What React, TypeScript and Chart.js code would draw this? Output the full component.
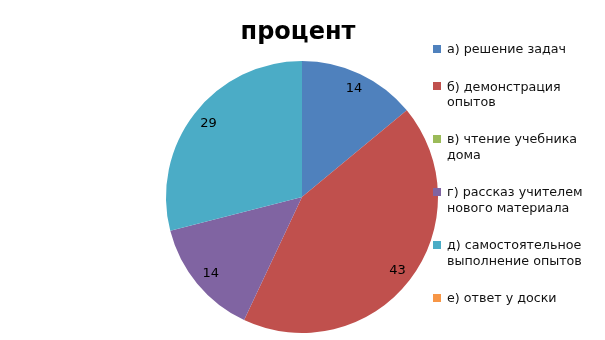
import React, { useEffect, useRef } from "react";
import { Chart, registerables } from "chart.js";

Chart.register(...registerables);

const chartTitle = "процент";
const categories: string[][] = [
  ["а) решение задач"],
  ["б) демонстрация", "опытов"],
  ["в) чтение учебника", "дома"],
  ["г) рассказ учителем", "нового материала"],
  ["д) самостоятельное", "выполнение опытов"],
  ["е) ответ у доски"],
];
const values: number[] = [14, 43, 0, 14, 29, 0];
const colors: string[] = ["#4F81BD", "#C0504D", "#9BBB59", "#8064A2", "#4BACC6", "#F79646"];

const FONT = "'DejaVu Sans', sans-serif";

const overlayPlugin = {
  id: "overlay",
  afterDraw(chart: any) {
    const ctx = chart.ctx as CanvasRenderingContext2D;
    ctx.save();
    // title
    ctx.fillStyle = "#000";
    ctx.font = `bold 24px ${FONT}`;
    ctx.textAlign = "center";
    ctx.textBaseline = "middle";
    ctx.fillText(chartTitle, 298, 33);

    // data labels
    const meta = chart.getDatasetMeta(0);
    ctx.font = `13px ${FONT}`;
    meta.data.forEach((arc: any, i: number) => {
      const v = values[i];
      if (!v) return;
      const { x, y, startAngle, endAngle, outerRadius } = arc.getProps(
        ["x", "y", "startAngle", "endAngle", "outerRadius"],
        true
      );
      const mid = (startAngle + endAngle) / 2;
      const r = outerRadius * 0.88;
      ctx.fillText(String(v), x + Math.cos(mid) * r + 1, y + Math.sin(mid) * r);
    });

    // legend
    ctx.textAlign = "left";
    ctx.font = `12.7px ${FONT}`;
    let y = 49;
    const lineH = 15.5;
    const gap = 37.3;
    categories.forEach((lines, i) => {
      ctx.fillStyle = colors[i];
      ctx.fillRect(433, Math.round(y) - 4, 8, 8);
      ctx.fillStyle = "#111";
      lines.forEach((ln, k) => {
        ctx.fillText(ln, 447, y + k * lineH + 1);
      });
      y += (lines.length - 1) * lineH + gap;
    });
    ctx.restore();
  },
};

export default function App() {
  const ref = useRef<HTMLCanvasElement | null>(null);
  useEffect(() => {
    if (!ref.current) return;
    const chart = new Chart(ref.current, {
      type: "pie",
      data: {
        labels: categories.map((l) => l.join(" ")),
        datasets: [
          {
            data: values,
            backgroundColor: colors,
            borderWidth: 0,
          },
        ],
      },
      options: {
        animation: false,
        responsive: false,
        layout: { padding: { left: 166, right: 167, top: 61, bottom: 7 } },
        plugins: {
          legend: { display: false },
          title: { display: false },
          tooltip: { enabled: false },
        },
      },
      plugins: [overlayPlugin],
    });
    return () => chart.destroy();
  }, []);
  return (
    <div style={{ position: "fixed", left: 0, top: 0, width: 605, height: 340, background: "#fff" }}>
      <canvas ref={ref} width={605} height={340} style={{ width: 605, height: 340 }} />
    </div>
  );
}
